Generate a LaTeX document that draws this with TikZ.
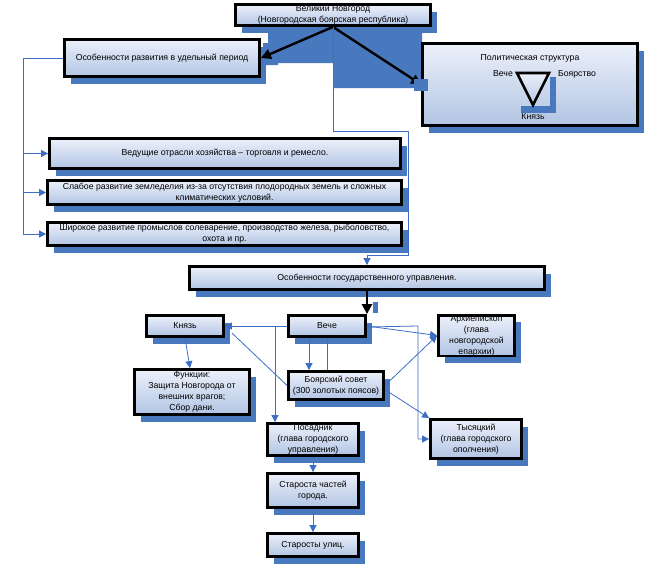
\documentclass[tikz,border=0pt]{standalone}
\usepackage{fontspec}
\setmainfont{Liberation Sans}
\usetikzlibrary{shadows,arrows.meta}
\definecolor{shb}{RGB}{72,120,190}
\definecolor{bxt}{RGB}{236,240,250}
\definecolor{bxb}{RGB}{178,197,228}
\definecolor{lnb}{RGB}{60,110,195}
\begin{document}
\begin{tikzpicture}[x=1pt,y=-1pt,font=\fontsize{8.7}{11}\selectfont,
  box/.style={draw=black,line width=2.8pt,top color=bxt,bottom color=bxb,align=center,inner sep=0pt,
    drop shadow={shadow xshift=6pt,shadow yshift=-7pt,fill=shb,opacity=1}},
  conn/.style={draw=lnb,line width=0.8pt},
  arr/.style={conn,-{Triangle[length=7pt,width=7pt]}},
  barr/.style={draw=black,line width=2.4pt,-{Triangle[length=10pt,width=10pt]}},
  shd/.style={fill=shb}]
\useasboundingbox (0,0) rectangle (647,565);
% big shadow area under the top arrows
\fill[shb] (268,30) -- (422,30) -- (422,88) -- (333,88) -- (333,63) -- (278,63) -- (278,65) -- (263,65) -- (263,43) -- (268,43) -- cycle;
% boxes
\node[box,minimum width=195pt,minimum height=21pt] (top) at (333,15) {Великий Новгород\\(Новгородская боярская республика)};
\node[box,minimum width=195pt,minimum height=37pt] (left) at (162,58) {Особенности развития в удельный период};
\node[box,minimum width=215pt,minimum height=82pt] (polit) at (530,84.5) {};
\node[box,minimum width=351pt,minimum height=30pt] (b1) at (225,153.5) {Ведущие отрасли хозяйства – торговля и ремесло.};
\node[box,minimum width=354pt,minimum height=24pt] (b2) at (224.5,192.5) {Слабое развитие земледелия из-за отсутствия плодородных земель и сложных\\климатических условий.};
\node[box,minimum width=354pt,minimum height=23pt] (b3) at (224.5,234) {Широкое развитие промыслов солеварение, производство железа, рыболовство,\\охота и пр.};
\node[box,minimum width=355pt,minimum height=23pt] (gos) at (367,278) {Особенности государственного управления.};
\node[box,minimum width=77pt,minimum height=21pt] (knyaz) at (185,326) {Князь};
\node[box,minimum width=77pt,minimum height=21pt] (veche) at (327,326) {Вече};
\node[box,minimum width=76pt,minimum height=40pt] (arch) at (476.5,335.5) {Архиепископ\\(глава\\новгородской\\епархии)};
\node[box,minimum width=115pt,minimum height=45pt] (func) at (192,392) {Функции:\\Защита Новгорода от\\внешних врагов;\\Сбор дани.};
\node[box,minimum width=95pt,minimum height=28pt] (boyar) at (336,385.5) {Боярский совет\\(300 золотых поясов)};
\node[box,minimum width=91pt,minimum height=39pt] (tys) at (476,439) {Тысяцкий\\(глава городского\\ополчения)};
\node[box,minimum width=91pt,minimum height=32pt] (posad) at (313,439.5) {Посадник\\(глава городского\\управления)};
\node[box,minimum width=91pt,minimum height=34pt] (star1) at (313,490.5) {Староста частей\\города.};
\node[box,minimum width=91pt,minimum height=23pt] (star2) at (313,545) {Старосты улиц.};
% political structure contents
\node (pt) at (530,58) {Политическая структура};
\node (pv) at (503,74) {Вече};
\node (pb) at (577,74) {Боярство};
\node (pk) at (533,117) {Князь};
\fill[shb] (550,77) rectangle (556,113);
\fill[shb] (521,106) rectangle (556,113);
\draw[line width=2.6pt,top color=bxt,bottom color=bxb,line join=miter] (517,73) -- (549,73) -- (533,105) -- cycle;
% top arrows
\draw[barr] (top.south) -- (left.east);
\draw[barr] (top.south) -- (polit.west);
\fill[shb] (414,79) rectangle (428,91);
% blue line from top to state management
\draw[arr] (top.south) |- (408,131) -- (408,255) -| (gos.north);
% left bracket
\coordinate (lx) at (23,0);
\draw[conn] (left.west) -| (lx |- b3.west);
\draw[arr] (lx |- b1.west) -- (b1.west);
\draw[arr] (lx |- b2.west) -- (b2.west);
\draw[arr] (lx |- b3.west) -- (b3.west);
% state management to veche
\draw[barr] (gos.south) -- (gos.south |- veche.north);
\fill[shb] (373,302) rectangle (378,313);
% lower connectors
\coordinate (px) at (275,0);
\coordinate (tx) at (418,0);
\draw[arr] (veche.west) -- (knyaz.east);
\draw[arr] (px |- veche.west) -- (px |- posad.north);
\draw[arr] ([xshift=-18pt]veche.south) -- ([xshift=-18pt]veche.south |- boyar.north);
\draw[conn] (veche.south) -- (veche.south |- boyar.north);
\draw[arr] (veche.east) -- (arch.west);
\draw[arr] ([yshift=-1pt]veche.east) -- (tx |- veche.east) -- (tx |- tys.west) -- (tys.west);
\draw[arr] (boyar.east) -- (arch.west);
\draw[arr] ([yshift=-4pt]boyar.east) -- (tys.north west);
\draw[conn] ([xshift=7pt,yshift=-7pt]knyaz.east) -- (boyar.west);
\draw[arr] (knyaz.south) -- ([xshift=5pt]knyaz.south |- func.north);
\draw[arr] (posad.south) -- (star1.north);
\draw[arr] (star1.south) -- (star2.north);
\end{tikzpicture}
\end{document}
